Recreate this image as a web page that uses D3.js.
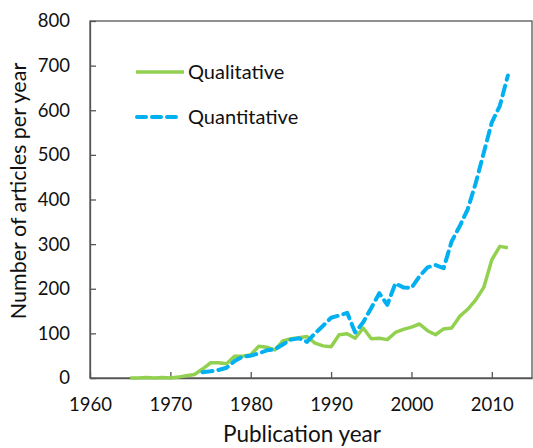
<!DOCTYPE html>
<html><head><meta charset="utf-8">
<script src="https://cdn.jsdelivr.net/npm/d3@7"></script>
<style>body{margin:0;background:#fff}svg{display:block}text{font-family:Lato,"Open Sans",sans-serif;fill:#111}</style>
</head><body><svg id="c" width="533" height="448"></svg>
<script>
const qualYears = d3.range(1965, 2013);
const qualValues = [0,0,1,0,1,0,2,5,8,20,34,34,32,49,49,52,71,69,63,83,88,90,93,78,72,70,97,99,89,112,88,89,86,102,109,114,121,106,97,110,112,138,154,175,203,265,295,292];
const quantYears = d3.range(1974, 2013);
const quantValues = [13,15,18,23,38,48,50,55,62,64,75,86,89,81,100,117,135,140,146,102,125,157,190,164,212,203,202,228,248,253,246,306,340,378,437,505,573,610,678];
const xTicks = [1960,1970,1980,1990,2000,2010];
const yTicks = [0,100,200,300,400,500,600,700,800];
const seriesNames = ["Qualitative","Quantitative"];

const svg = d3.select("#c");
const L=90,R=532,T=21,B=378;
const x = d3.scaleLinear().domain([1960,2015]).range([L,R]);
const y = d3.scaleLinear().domain([0,800]).range([B,T]);
const axisCol="#555";

svg.append("rect").attr("x",L).attr("y",T).attr("width",R-L).attr("height",B-T)
  .attr("fill","none").attr("stroke",axisCol).attr("stroke-width",1.3);

const xa = svg.append("g").attr("transform",`translate(0,${B})`)
  .call(d3.axisBottom(x).tickValues(xTicks).tickFormat(d3.format("d")).tickSizeInner(-6).tickSizeOuter(0).tickPadding(20));
const ya = svg.append("g").attr("transform",`translate(${L},0)`)
  .call(d3.axisLeft(y).tickValues(yTicks).tickSizeInner(-6).tickSizeOuter(0).tickPadding(20));
[xa,ya].forEach(g=>{g.select(".domain").attr("stroke",axisCol).attr("stroke-width",1.3);
  g.selectAll(".tick line").attr("stroke",axisCol).attr("stroke-width",1.3);
  g.selectAll("text").attr("font-size",18.5).attr("font-family","Lato, 'Open Sans', sans-serif").attr("fill","#111");});

const line = d3.line().x(d=>x(d[0])).y(d=>y(d[1]));
svg.append("path").datum(qualYears.map((t,i)=>[t,qualValues[i]]))
  .attr("d",line).attr("fill","none").attr("stroke","#92D050").attr("stroke-width",3.5).attr("stroke-linejoin","round");
svg.append("path").datum(quantYears.map((t,i)=>[t,quantValues[i]]))
  .attr("d",line).attr("fill","none").attr("stroke","#00B0F0").attr("stroke-width",4)
  .attr("stroke-dasharray","10,6").attr("stroke-linecap","round").attr("stroke-linejoin","round");

const lg = svg.append("g");
lg.append("line").attr("x1",136).attr("x2",184).attr("y1",72).attr("y2",72).attr("stroke","#92D050").attr("stroke-width",3.5);
lg.append("line").attr("x1",137).attr("x2",182).attr("y1",117).attr("y2",117).attr("stroke","#00B0F0").attr("stroke-width",4).attr("stroke-dasharray","9,6").attr("stroke-linecap","round");
lg.append("text").attr("x",188).attr("y",78.5).attr("font-size",20).text(seriesNames[0]);
lg.append("text").attr("x",188).attr("y",123.5).attr("font-size",20).text(seriesNames[1]);

svg.append("text").attr("x",302).attr("y",442).attr("text-anchor","middle").attr("font-size",22.5).text("Publication year");
svg.append("text").attr("transform","translate(26,191) rotate(-90)").attr("text-anchor","middle").attr("font-size",21.5).text("Number of articles per year");
</script></body></html>
